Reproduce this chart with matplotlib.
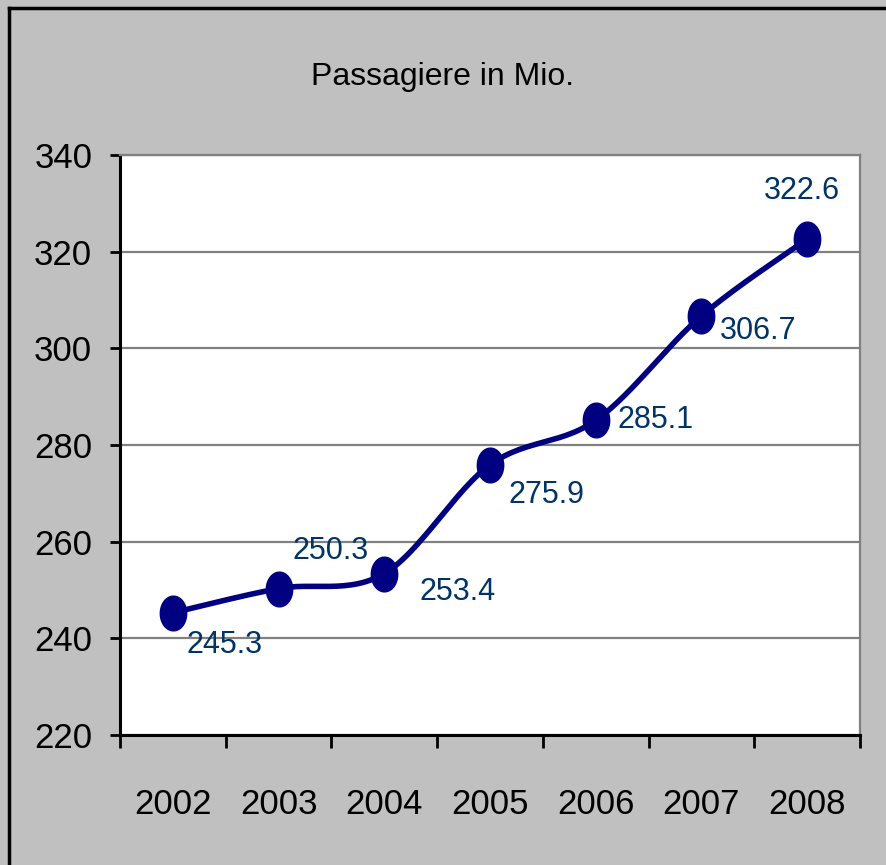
import matplotlib
matplotlib.use('Agg')
import matplotlib.pyplot as plt
import numpy as np
from matplotlib.path import Path
from matplotlib.lines import Line2D

plt.rcParams['font.family'] = ['Liberation Sans', 'DejaVu Sans']

years = ['2002', '2003', '2004', '2005', '2006', '2007', '2008']
passengers = [245.3, 250.3, 253.4, 275.9, 285.1, 306.7, 322.6]
# label offsets in pixels (dx, dy) relative to each point
label_offsets = [(52, -32), (52, 38), (73, -18), (57, -30), (60, 0), (57, -15), (-5, 48)]

fig = plt.figure(figsize=(8.87, 8.65), dpi=100)
fig.patch.set_facecolor('#c0c0c0')
ax = fig.add_axes([120 / 887, 1 - 735 / 865, 740 / 887, 580 / 865])
ax.set_facecolor('white')

x = np.arange(len(years))
y = np.array(passengers)

# smoothed line (bezier through the points, like Excel's smoothed line)
xs, ys = [], []
px = np.concatenate([[x[0]], x, [x[-1]]])
py = np.concatenate([[y[0]], y, [y[-1]]])
t = np.linspace(0, 1, 30)
for i in range(1, len(px) - 2):
    p0 = np.array([px[i], py[i]])
    p3 = np.array([px[i + 1], py[i + 1]])
    c1 = p0 + (np.array([px[i + 1], py[i + 1]]) - np.array([px[i - 1], py[i - 1]])) / 6
    c2 = p3 - (np.array([px[i + 2], py[i + 2]]) - np.array([px[i], py[i]])) / 6
    for tt in t:
        pt = (1 - tt) ** 3 * p0 + 3 * (1 - tt) ** 2 * tt * c1 + 3 * (1 - tt) * tt ** 2 * c2 + tt ** 3 * p3
        xs.append(pt[0])
        ys.append(pt[1])
ax.plot(xs, ys, color='#000080', lw=4, solid_capstyle='round', zorder=3)

# elliptical marker
theta = np.linspace(0, 2 * np.pi, 60)
ell = Path(np.column_stack([0.76 * np.cos(theta), np.sin(theta)]), closed=True)
ax.plot(x, y, linestyle='none', marker=ell, markersize=25, color='#000080', zorder=4)

for xi, yi, v, (dx, dy) in zip(x, y, passengers, label_offsets):
    ax.annotate(f'{v:.1f}', (xi, yi), xytext=(dx * 0.72, dy * 0.72), textcoords='offset points',
                ha='center', va='center', fontsize=22, color='#003366', zorder=5)

ax.set_xlim(-0.5, 6.5)
ax.set_ylim(220, 340)
ax.set_yticks(range(220, 341, 20))
ax.yaxis.grid(True, color='#808080', lw=1.6)
ax.set_axisbelow(True)

ax.set_xticks(np.arange(-0.5, 7, 1))
ax.set_xticklabels([])
ax.set_xticks(x, minor=True)
ax.set_xticklabels(years, minor=True)
ax.tick_params(axis='x', which='major', direction='out', length=9.5, width=2, color='black')
ax.tick_params(axis='x', which='minor', length=0, pad=38, labelsize=25)
ax.tick_params(axis='y', direction='out', length=7, width=2, pad=13, labelsize=25)

for s in ['left', 'bottom']:
    ax.spines[s].set_color('black')
    ax.spines[s].set_linewidth(2.2)
for s in ['top', 'right']:
    ax.spines[s].set_color('#808080')
    ax.spines[s].set_linewidth(1.6)

fig.text(443 / 887, 1 - 77 / 865, 'Passagiere in Mio.', ha='center', va='center', fontsize=23)

# outer chart border (top and left visible)
fig.add_artist(Line2D([9 / 887, 9 / 887], [0, 1 - 8 / 865], transform=fig.transFigure, color='black', lw=2.5))
fig.add_artist(Line2D([9 / 887, 1], [1 - 8 / 865, 1 - 8 / 865], transform=fig.transFigure, color='black', lw=2.5))

fig.savefig('out.png', dpi=100, facecolor=fig.get_facecolor())
